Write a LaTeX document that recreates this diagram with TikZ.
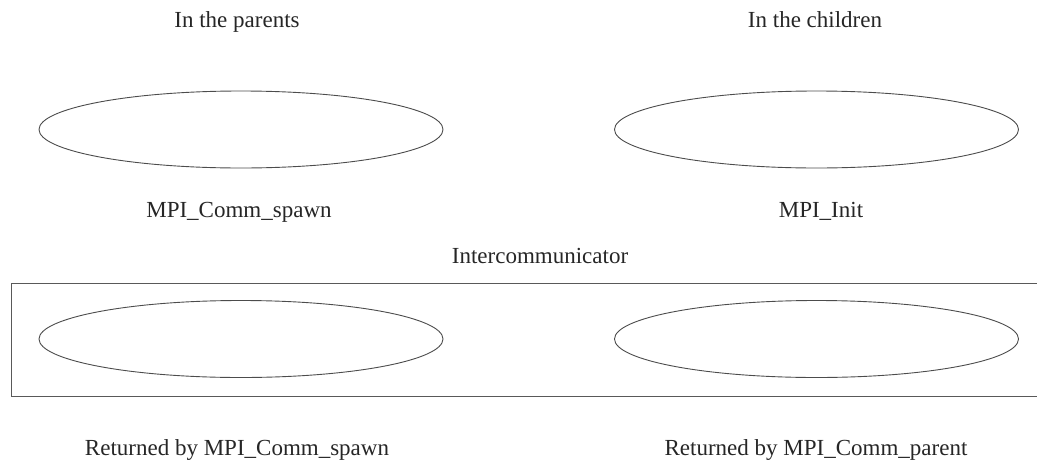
\documentclass[tikz,border=0pt]{standalone}
\usepackage{fontspec}
\setmainfont{Liberation Serif}
\usetikzlibrary{shapes.geometric}
\begin{document}
\begin{tikzpicture}[x=1pt,y=1pt,
  lbl/.style={font=\fontsize{23}{27}\selectfont, anchor=base, inner sep=0pt, text=black!85},
  oval/.style={draw=black!70, line width=0.9pt, ellipse, minimum width=404pt, minimum height=77pt, inner sep=0pt},
  frame/.style={draw=black!65, line width=0.9pt}]
\useasboundingbox (0,0) rectangle (1037,-461);
\begin{scope}
\clip (0,0) rectangle (1037,-461);
\draw[frame] (11,-283) rectangle (1045,-396);
\end{scope}
\node[lbl] (tparents) at (237,-27) {In the parents};
\node[lbl] (tchildren) at (815,-27) {In the children};
\node[oval] (e1) at (241,-129.5) {};
\node[oval] (e2) at (816.5,-129.5) {};
\node[lbl] (spawn) at (239,-217) {MPI\_Comm\_spawn};
\node[lbl] (init) at (821,-217) {MPI\_Init};
\node[lbl] (inter) at (540,-263) {Intercommunicator};
\node[oval] (e3) at (241,-339) {};
\node[oval] (e4) at (816.5,-339) {};
\node[lbl] (retspawn) at (237,-455) {Returned by MPI\_Comm\_spawn};
\node[lbl] (retparent) at (816,-455) {Returned by MPI\_Comm\_parent};
\end{tikzpicture}
\end{document}
